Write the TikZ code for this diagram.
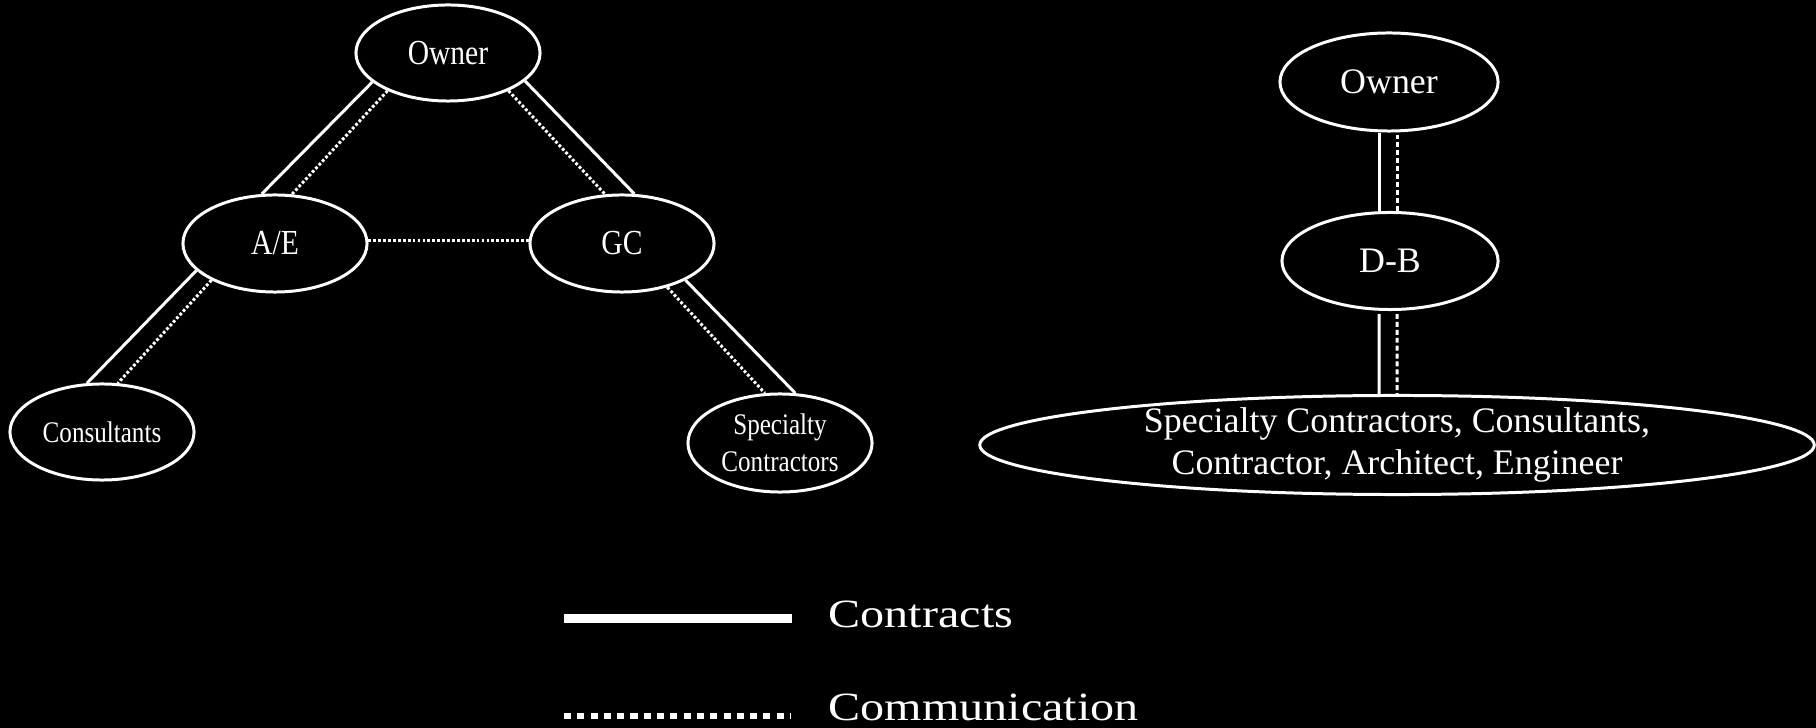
\documentclass[tikz,border=0pt]{standalone}
\usepackage{fontspec}
\setmainfont{Liberation Serif}
\newfontfamily\narrowfont[FakeStretch=0.84]{Liberation Serif}
\newfontfamily\legendfont[FakeStretch=1.2]{Liberation Serif}
\usetikzlibrary{shapes.geometric}
\begin{document}
\begin{tikzpicture}[x=0.01cm,y=-0.01cm,
  ell/.style={draw=white, line width=0.85pt, ellipse, inner sep=0pt, text=white},
  lbig/.style={font=\narrowfont\fontsize{10}{12}\selectfont},
  lsmall/.style={font=\narrowfont\fontsize{8.5}{10.5}\selectfont, align=center},
  rtext/.style={font=\fontsize{10.2}{11.95}\selectfont, align=center, text=white, inner sep=0pt},
  contract/.style={draw=white, line width=0.85pt},
  comm/.style={draw=white, line width=0.85pt, dash pattern=on 0.8pt off 0.6pt},
  commv/.style={draw=white, line width=0.85pt, dash pattern=on 1.4pt off 0.85pt},
  legtext/.style={anchor=base west, text=white, inner sep=0pt, font=\legendfont\fontsize{11.4}{13}\selectfont}
]
\fill[black] (0,0) rectangle (1816,728);
\useasboundingbox (0,0) rectangle (1816,728);

% left diagram
\node[ell, lbig, minimum width=1.84cm, minimum height=0.96cm] (own1) at (448,53) {Owner};
\node[ell, lbig, minimum width=1.84cm, minimum height=0.97cm] (ae) at (275,243.5) {A/E};
\node[ell, lbig, minimum width=1.84cm, minimum height=0.97cm] (gc) at (622,243.5) {GC};
\node[ell, lsmall, minimum width=1.84cm, minimum height=0.96cm] (cons) at (102,432) {Consultants};
\node[ell, minimum width=1.84cm, minimum height=0.98cm] (spec) at (780,443) {};
\node[lsmall, text=white, inner sep=0pt] (spectext) at (spec.center) {Specialty\\Contractors};

\draw[contract] (own1.201) -- (ae.105);
\draw[comm] (own1.212) -- (ae.71);
\draw[comm] (own1.328) -- (gc.109);
\draw[contract] (own1.340) -- (gc.76);
\draw[comm] (ae.2) -- (gc.178);
\draw[contract] (ae.199) -- (cons.107);
\draw[comm] (ae.210) -- (cons.72);
\draw[contract] (gc.330) -- (spec.73);
\draw[comm] (gc.316) -- (spec.107);

% right diagram
\node[ell, font=\fontsize{10.2}{12}\selectfont, minimum width=2.18cm, minimum height=0.98cm] (own2) at (1389,82) {Owner};
\node[ell, font=\fontsize{10.2}{12}\selectfont, minimum width=2.16cm, minimum height=0.97cm] (db) at (1390,261) {D-B};
\node[ell, minimum width=8.34cm, minimum height=0.99cm] (big) at (1397,445) {};
\node[rtext] (bigtext) at (big.center) {Specialty Contractors, Consultants,\\Contractor, Architect, Engineer};

\draw[contract] ([xshift=-0.1cm]own2.south) -- ([xshift=-0.11cm]db.north);
\draw[commv] ([xshift=0.08cm,yshift=-0.02cm]own2.south) -- ([xshift=0.07cm]db.north);
\draw[contract] ([xshift=-0.11cm,yshift=-0.03cm]db.south) -- ([xshift=-0.18cm]big.north);
\draw[commv] ([xshift=0.07cm,yshift=-0.03cm]db.south) -- ([xshift=0cm]big.north);

% legend
\coordinate (c1) at (564,618.5);
\coordinate (c2) at (792,618.5);
\draw[white, line width=2.3pt] (c1) -- (c2);
\coordinate (m1) at (564,716);
\coordinate (m2) at (790,716);
\draw[white, line width=1.7pt, dash pattern=on 2pt off 1.78pt] (m1) -- (m2);
\node[legtext] (lc) at (828,627) {Contracts};
\node[legtext] (lm) at (828,720) {Communication};
\end{tikzpicture}
\end{document}
